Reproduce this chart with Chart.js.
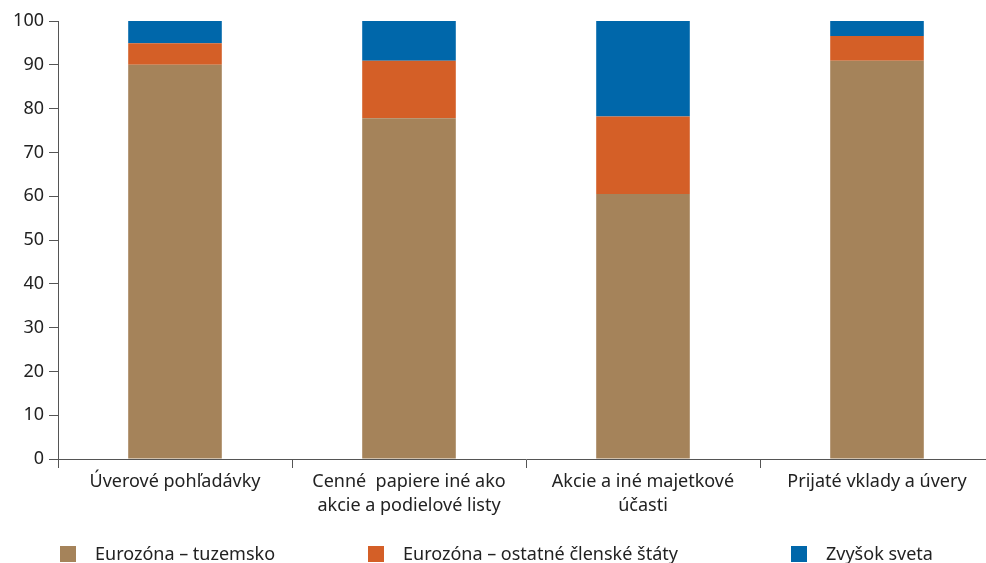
<!DOCTYPE html>
<html>
<head>
<meta charset="utf-8">
<script src="https://cdn.jsdelivr.net/npm/chart.js@4"></script>
<style>
  html, body { margin: 0; padding: 0; background: #fff; overflow: hidden; }
  #wrap { position: relative; width: 1000px; height: 563px; }
  #legenda { position: absolute; left: 0; top: 543px; width: 1000px; height: 20px;
    font-family: "Noto Sans", sans-serif; font-size: 18px; color: #222; }
  .item { position: absolute; top: 0; white-space: nowrap; line-height: 20px; }
  .box { display: inline-block; width: 16px; height: 16px; vertical-align: -2px; margin-right: 19px; }
</style>
</head>
<body>
<div id="wrap">
  <canvas id="graf" width="1000" height="563"></canvas>
  <div id="legenda"></div>
</div>
<script>
const kategorie = [
    ['Úverové pohľadávky'],
    ['Cenné  papiere iné ako', 'akcie a podielové listy'],
    ['Akcie a iné majetkové', 'účasti'],
    ['Prijaté vklady a úvery']
];
const tuzemsko = [90.0, 77.8, 60.5, 90.9];
const ostatne = [4.9, 13.1, 17.7, 5.7];
const zvysok = [5.1, 9.1, 21.8, 3.4];

const nazvy = ['Eurozóna – tuzemsko', 'Eurozóna – ostatné členské štáty', 'Zvyšok sveta'];
const farby = ['#A5835A', '#D45F27', '#0067AA'];
const legendaX = [60, 368, 791];

const pismo = { family: '"Noto Sans", sans-serif', size: 18 };

const ctx = document.getElementById('graf').getContext('2d');

const graf = new Chart(ctx, {
    type: 'bar',
    data: {
        labels: kategorie,
        datasets: [
            { label: nazvy[0], data: tuzemsko, backgroundColor: farby[0] },
            { label: nazvy[1], data: ostatne, backgroundColor: farby[1] },
            { label: nazvy[2], data: zvysok, backgroundColor: farby[2] }
        ]
    },
    options: {
        responsive: false,
        animation: false,
        maintainAspectRatio: false,
        layout: { padding: { top: 21, left: 0, right: 6, bottom: 4 } },
        datasets: { bar: { barPercentage: 0.4, categoryPercentage: 1, borderWidth: 0 } },
        plugins: {
            legend: { display: false },
            tooltip: { enabled: false }
        },
        scales: {
            x: {
                stacked: true,
                offset: true,
                afterFit: (s) => { s.height = 100; },
                grid: {
                    offset: true,
                    drawOnChartArea: false,
                    color: '#555',
                    tickLength: 9,
                    tickColor: '#555'
                },
                border: { color: '#555', width: 1 },
                ticks: {
                    color: '#222',
                    font: { ...pismo, lineHeight: 1.33 },
                    padding: 2,
                    maxRotation: 0,
                    autoSkip: false
                }
            },
            y: {
                stacked: true,
                min: 0,
                max: 100,
                afterFit: (s) => { s.width = 58; },
                grid: {
                    drawOnChartArea: false,
                    tickLength: 9,
                    tickColor: '#555'
                },
                border: { color: '#555', width: 1 },
                ticks: {
                    stepSize: 10,
                    color: '#222',
                    font: pismo,
                    padding: 5
                }
            }
        }
    }
});

const legenda = document.getElementById('legenda');
nazvy.forEach((n, i) => {
    const el = document.createElement('div');
    el.className = 'item';
    el.style.left = legendaX[i] + 'px';
    el.innerHTML = '<span class="box" style="background:' + farby[i] + '"></span>' + n;
    legenda.appendChild(el);
});
</script>
</body>
</html>
